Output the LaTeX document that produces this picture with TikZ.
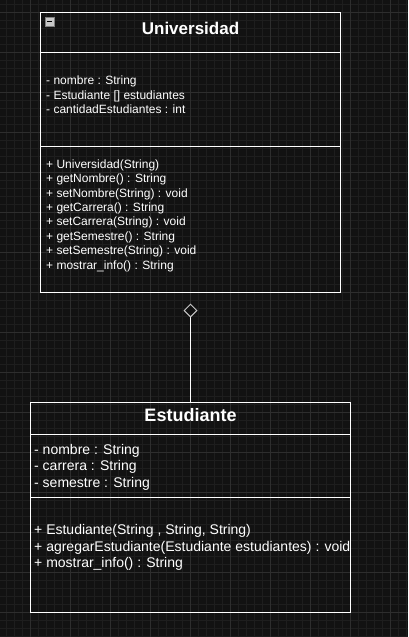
\documentclass[tikz,border=0pt]{standalone}
\usepackage{fontspec}
\setmainfont{Liberation Sans}
\usetikzlibrary{arrows.meta}
\definecolor{bgc}{RGB}{18,18,18}
\definecolor{minorc}{RGB}{30,30,30}
\definecolor{majorc}{RGB}{46,46,46}
\definecolor{diac}{RGB}{200,200,200}
\tikzset{
  classbox/.style={draw=white, line width=1pt, rectangle, inner sep=0pt},
  sepline/.style={draw=white, line width=1pt},
  small/.style={text=white, anchor=base west, inner sep=0pt, font=\fontsize{12}{14.4}\selectfont},
  mid/.style={text=white, anchor=base west, inner sep=0pt, font=\fontsize{14}{16.8}\selectfont},
  titletext/.style={text=white, anchor=base, inner sep=0pt, font=\bfseries\fontsize{#1}{#1}\selectfont},
  minorgrid/.style={draw=minorc, line width=0.8pt},
  majorgrid/.style={draw=majorc, line width=0.8pt},
  aggr/.style={draw=white, line width=1pt, -{Diamond[length=14pt,width=14pt,color=diac,fill=bgc,line width=1pt]}}
}
\begin{document}
\begin{tikzpicture}[x=1pt,y=-1pt]
\useasboundingbox (0,0) rectangle (408,637);
\fill[bgc] (0,0) rectangle (408,637);
\begin{scope}
\clip (0,0) rectangle (408,637);
\foreach \x in {-2,6,...,414} \draw[minorgrid] (\x,0) -- (\x,637);
\foreach \y in {4,12,...,644} \draw[minorgrid] (0,\y) -- (408,\y);
\foreach \x in {-10,30,...,430} \draw[majorgrid] (\x,0) -- (\x,637);
\foreach \y in {12,52,...,652} \draw[majorgrid] (0,\y) -- (408,\y);
\end{scope}

% Universidad
\node[classbox, minimum width=299.5pt, minimum height=279.5pt] (U) at (190.5,152.25) {};
\draw[sepline] (40.75,52) -- (340.25,52);
\draw[sepline] (40.75,146) -- (340.25,146);
\node[titletext=17] (Ut) at (190.5,34) {Universidad};
\node[draw=gray, fill=diac, line width=0.8pt, minimum size=9pt, inner sep=0pt] (Umin) at (49.5,21.5) {};
\draw[black, line width=1.2pt] (47,21.5) -- (52,21.5);
\foreach \t [count=\i from 0] in {- nombre : String, - Estudiante [] estudiantes, - cantidadEstudiantes : int}
  \node[small] (ua\i) at (46,84.8+14.5*\i) {\t};
\foreach \t [count=\i from 0] in {+ Universidad(String), + getNombre() : String, + setNombre(String) : void, + getCarrera() : String, + setCarrera(String) : void, + getSemestre() : String, + setSemestre(String) : void, + mostrar\_info() : String}
  \node[small] (um\i) at (46,168.2+14.4*\i) {\t};

% Estudiante
\node[classbox, minimum width=319.5pt, minimum height=209.5pt] (E) at (190.5,507.25) {};
\draw[sepline] (30.75,434) -- (350.25,434);
\draw[sepline] (30.75,497.5) -- (350.25,497.5);
\node[titletext=18] (Et) at (190.5,421.7) {Estudiante};
\foreach \t [count=\i from 0] in {- nombre : String, - carrera : String, - semestre : String}
  \node[mid] (ea\i) at (34,454.3+16.5*\i) {\t};
\node[mid] (em0) at (34,534.3) {+ Estudiante(String , String, String)};
\node[mid] (em1) at (34,551.0) {+ agregarEstudiante(Estudiante estudiantes) : void};
\node[mid] (em2) at (34,567.7) {+ mostrar\_info() : String};

% aggregation
\draw[aggr, shorten >=11pt] (E.north) -- (U.south);
\end{tikzpicture}
\end{document}
